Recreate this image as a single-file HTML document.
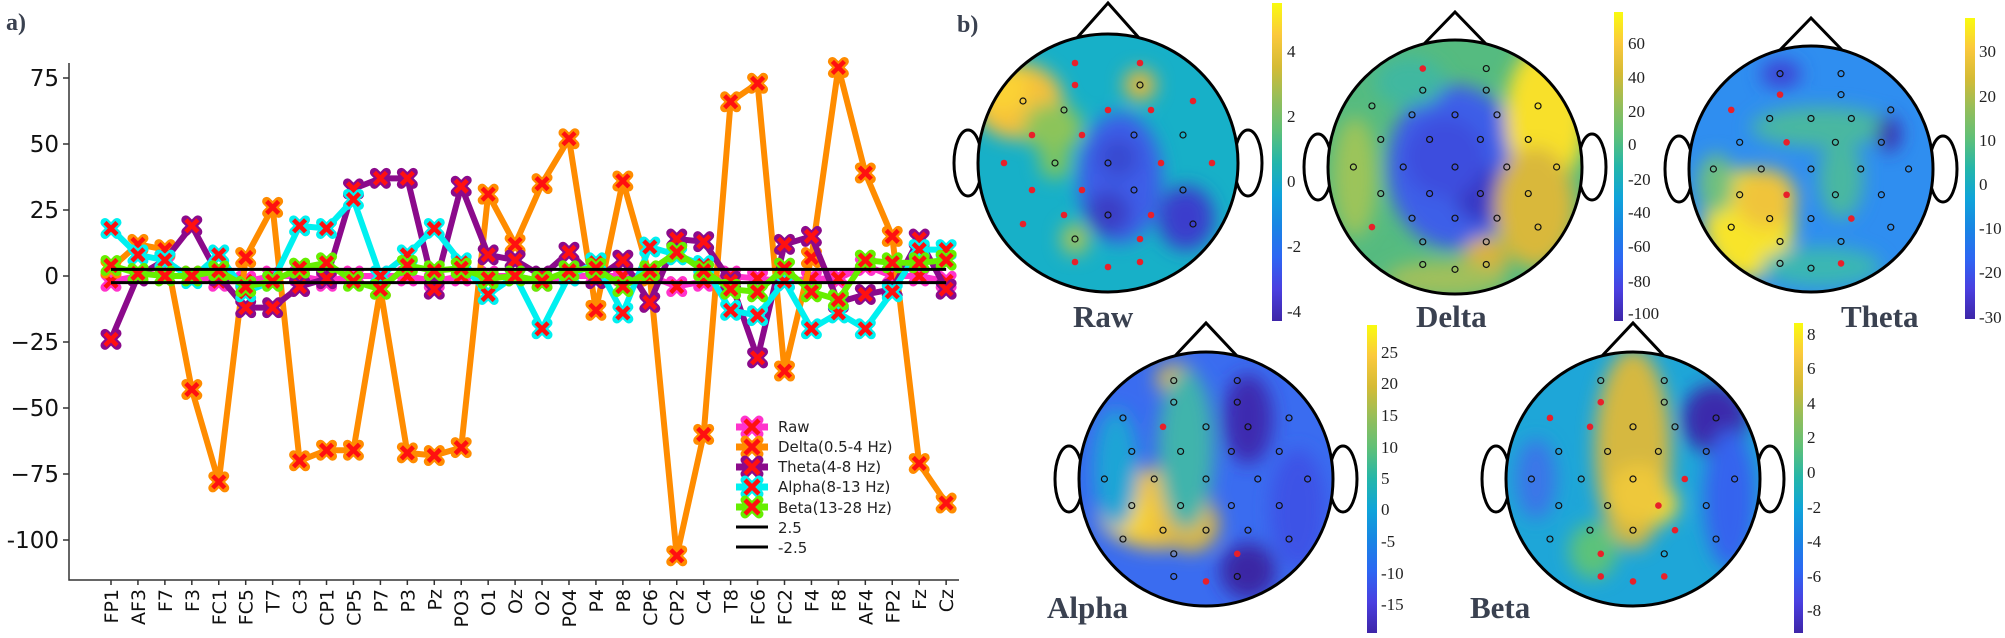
<!DOCTYPE html>
<html><head><meta charset="utf-8"><style>
html,body{margin:0;padding:0;background:#fff;}
svg{display:block;}
.t{font-family:"DejaVu Sans","Liberation Sans",sans-serif;}
.s{font-family:"Liberation Serif",serif;}
</style></head><body>
<svg id="root" width="2005" height="638" viewBox="0 0 2005 638" xmlns="http://www.w3.org/2000/svg">
<defs>
<linearGradient id="cb" x1="0" y1="0" x2="0" y2="1">
<stop offset="0" stop-color="#f9fb0e"/><stop offset="0.1" stop-color="#fbc93c"/><stop offset="0.2" stop-color="#d5bb35"/><stop offset="0.3" stop-color="#95be5a"/><stop offset="0.4" stop-color="#5fc078"/><stop offset="0.5" stop-color="#24b6aa"/><stop offset="0.6" stop-color="#0fa4d9"/><stop offset="0.7" stop-color="#1885e4"/><stop offset="0.8" stop-color="#2d66f3"/><stop offset="0.9" stop-color="#4a3fe0"/><stop offset="1" stop-color="#3e26a8"/>
</linearGradient>
<filter id="bl" x="-50%" y="-50%" width="200%" height="200%"><feGaussianBlur stdDeviation="9"/></filter>
</defs>
<text x="6" y="30" class="s" font-size="24" font-weight="bold" fill="#3a4150">a)</text>
<text x="957" y="32" class="s" font-size="24" font-weight="bold" fill="#3a4150">b)</text>
<g stroke="#333" stroke-width="1.5" fill="none">
<path d="M69,63 V580 H959"/>
<path d="M63,78H69M63,144H69M63,210H69M63,276H69M63,342H69M63,408H69M63,474H69M63,540H69"/>
</g>
<g class="t" font-size="23" fill="#111" text-anchor="end">
<text x="59" y="86">75</text><text x="59" y="152">50</text><text x="59" y="218">25</text><text x="59" y="284">0</text>
<text x="59" y="350">−25</text><text x="59" y="416">−50</text><text x="59" y="482">−75</text><text x="59" y="548">-100</text>
</g>
<g id="xl" class="t" font-size="19" fill="#111" text-anchor="end"></g>
<g id="series"></g>
<g class="t" font-size="15" fill="#222">
<text x="778" y="432">Raw</text><text x="778" y="452">Delta(0.5-4 Hz)</text><text x="778" y="472">Theta(4-8 Hz)</text><text x="778" y="492">Alpha(8-13 Hz)</text><text x="778" y="513">Beta(13-28 Hz)</text><text x="778" y="533">2.5</text><text x="778" y="553">-2.5</text>
</g>
<g id="leg"></g>
<g id="heads"></g>
<rect x="1272" y="3" width="10" height="318" fill="url(#cb)"/>
<rect x="1614" y="12" width="9" height="309" fill="url(#cb)"/>
<rect x="1965" y="18" width="10" height="301" fill="url(#cb)"/>
<rect x="1367" y="325" width="10" height="308" fill="url(#cb)"/>
<rect x="1794" y="323" width="9" height="310" fill="url(#cb)"/>
<g class="s" font-size="17" fill="#222">
<text x="1287" y="57">4</text><text x="1287" y="122">2</text><text x="1287" y="187">0</text><text x="1287" y="252">-2</text><text x="1287" y="317">-4</text>
<text x="1628" y="49">60</text><text x="1628" y="83">40</text><text x="1628" y="117">20</text><text x="1628" y="150">0</text><text x="1628" y="185">-20</text><text x="1628" y="218">-40</text><text x="1628" y="252">-60</text><text x="1628" y="287">-80</text><text x="1628" y="319">-100</text>
<text x="1979" y="57">30</text><text x="1979" y="102">20</text><text x="1979" y="146">10</text><text x="1979" y="190">0</text><text x="1979" y="234">-10</text><text x="1979" y="278">-20</text><text x="1979" y="323">-30</text>
<text x="1381" y="358">25</text><text x="1381" y="389">20</text><text x="1381" y="421">15</text><text x="1381" y="453">10</text><text x="1381" y="484">5</text><text x="1381" y="515">0</text><text x="1381" y="547">-5</text><text x="1381" y="579">-10</text><text x="1381" y="610">-15</text>
<text x="1807" y="340">8</text><text x="1807" y="374">6</text><text x="1807" y="409">4</text><text x="1807" y="443">2</text><text x="1807" y="478">0</text><text x="1807" y="513">-2</text><text x="1807" y="547">-4</text><text x="1807" y="582">-6</text><text x="1807" y="616">-8</text>
</g>
<g class="s" font-size="31" font-weight="bold" fill="#3a4150">
<text x="1073" y="327">Raw</text><text x="1416" y="327">Delta</text><text x="1841" y="327">Theta</text>
<text x="1047" y="618">Alpha</text><text x="1470" y="618">Beta</text>
</g>
</svg>
<script>
var NS="http://www.w3.org/2000/svg";
function el(p,t,a){var e=document.createElementNS(NS,t);for(var k in a)e.setAttribute(k,a[k]);p.appendChild(e);return e;}
var ch="FP1 AF3 F7 F3 FC1 FC5 T7 C3 CP1 CP5 P7 P3 Pz PO3 O1 Oz O2 PO4 P4 P8 CP6 CP2 C4 T8 FC6 FC2 F4 F8 AF4 FP2 Fz Cz".split(" ");
function X(i){return 111+26.94*i;} function Y(v){return 276-2.64*v;}
var xl=document.getElementById("xl");
ch.forEach(function(c,i){var t=el(xl,"text",{transform:"translate("+(X(i)+7)+",589) rotate(-90)"});t.textContent=c;el(document.getElementById("root"),"line",{x1:X(i),x2:X(i),y1:580,y2:585,stroke:"#333","stroke-width":1.5});});
var S=[
["#ff33cc",[-2,0,5,0,-2,-2,0,0,-2,0,0,0,-2,0,0,0,-2,0,0,0,0,-4,-2,0,-1,-2,-1,-1,4,0,0,-2]],
["#ff8c00",[3,12,10,-43,-78,7,26,-70,-66,-66,-5,-67,-68,-65,31,12,35,52,-13,36,0,-106,-60,66,73,-36,7,79,39,15,-71,-86]],
["#8b0a8b",[-24,0,6,19,0,-12,-12,-4,-1,33,37,37,-5,34,8,6,0,9,-1,6,-10,14,13,-2,-31,12,15,-10,-7,-5,14,-5]],
["#00f0f0",[18,8,6,-1,8,-6,-2,19,18,29,0,8,18,5,-7,0,-20,0,5,-14,11,8,4,-13,-15,-2,-20,-14,-20,-6,10,10]],
["#66ee00",[4,1,0,0,2,-4,-2,3,5,-2,-5,4,2,3,-1,0,-2,2,3,-4,2,9,2,-5,-6,3,-6,-9,6,5,5,6]]];
var g=document.getElementById("series"),lg=document.getElementById("leg");
function mk(p,x,y,c,s){s=s||6;var d="M"+(x-s)+","+(y-s)+"L"+(x+s)+","+(y+s)+"M"+(x+s)+","+(y-s)+"L"+(x-s)+","+(y+s);
el(p,"path",{d:d,stroke:c,"stroke-width":9,"stroke-linecap":"round",fill:"none"});
el(p,"path",{d:d,stroke:"#ff1010","stroke-width":4.5,"stroke-linecap":"butt",fill:"none"});}
S.forEach(function(s,k){var pts=s[1].map(function(v,i){return X(i)+","+Y(v);}).join(" ");
el(g,"polyline",{points:pts,fill:"none",stroke:s[0],"stroke-width":6,"stroke-linejoin":"round"});
s[1].forEach(function(v,i){mk(g,X(i),Y(v),s[0]);});
var ly=427+20*k; el(lg,"line",{x1:736,x2:768,y1:ly,y2:ly,stroke:s[0],"stroke-width":7});mk(lg,752,ly,s[0],7);});
el(g,"line",{x1:X(0),x2:X(31),y1:Y(2.5),y2:Y(2.5),stroke:"#000","stroke-width":3});
el(g,"line",{x1:X(0),x2:X(31),y1:Y(-2.5),y2:Y(-2.5),stroke:"#000","stroke-width":3});
el(lg,"line",{x1:736,x2:768,y1:527,y2:527,stroke:"#000","stroke-width":3});
el(lg,"line",{x1:736,x2:768,y1:547,y2:547,stroke:"#000","stroke-width":3});
var E=[[-33,-100],[32,-100],[-33,-78],[32,-78],[-85,-62],[-44,-53],[0,-53],[43,-53],[85,-62],[-76,-28],[-26,-28],[26,-28],[75,-28],[-104,0],[-53,0],[0,0],[53,0],[104,0],[-76,27],[-26,27],[26,27],[75,27],[-85,61],[-44,52],[0,52],[43,52],[85,61],[-33,76],[32,76],[-33,99],[0,104],[32,99]];
var H=[
{cx:1108,cy:163,rx:130,ry:129,ap:3,base:"#17b0c8",red:[0,1,2,6,7,8,9,10,13,16,17,18,19,22,23,25,28,29,30,31],
b:[[-90,-62,45,38,"#f5c03a"],[-105,-75,25,25,"#fbd235"],[-55,-35,30,25,"#8cc45a"],[32,-78,16,16,"#e0b83c"],[12,15,42,65,"#3c5de8"],[0,50,22,22,"#3a3cc4"],[10,-5,20,20,"#3848d0"],[78,55,28,32,"#3b3dcc"],[-53,0,16,16,"#7cc460"],[-33,76,14,16,"#a4c458"]]},
{cx:1455,cy:167,rx:127,ry:127,ap:12,base:"#55bb80",red:[0,22],
b:[[0,0,68,82,"#3c5ee8"],[28,28,28,28,"#3838c4"],[-10,-10,40,40,"#3c4ede"],[90,-50,40,72,"#f8e02c"],[80,40,40,60,"#d9b83a"],[30,92,22,22,"#dcb23a"],[-100,10,22,60,"#9cc45a"],[-10,112,60,18,"#a0c05c"],[-45,-85,35,25,"#40b8a0"]]},
{cx:1811,cy:169,rx:122,ry:123,ap:18,base:"#2f8ef0",red:[2,4,10,19,25,31],
b:[[10,-42,70,20,"#4ab8a0"],[30,10,22,40,"#4ab8a0"],[-62,55,45,55,"#f8e42b"],[-45,30,30,30,"#f0c43a"],[-30,-95,20,14,"#3d42d4"],[78,-35,12,18,"#3b2fae"],[10,98,60,20,"#3ab7b2"],[-95,15,18,30,"#70c07e"]]},
{cx:1206,cy:479,rx:127,ry:127,ap:323,base:"#3a6cf0",red:[5,28,30],
b:[[-50,30,55,40,"#f0c33e"],[-82,35,25,25,"#f8d634"],[-15,45,28,28,"#dcb840"],[-30,-100,20,15,"#dcb840"],[-20,-30,28,80,"#40b4ac"],[-90,-10,22,60,"#1fa5d6"],[42,-60,25,45,"#3d2cb0"],[42,92,28,28,"#3a28a4"],[92,30,28,60,"#3c52e6"]]},
{cx:1633,cy:479,rx:127,ry:127,ap:323,base:"#1ea6d8",red:[2,4,5,16,20,25,27,29,30,31],
b:[[0,-30,38,100,"#d6b840"],[25,25,20,20,"#f8dc2c"],[5,15,30,30,"#eec83a"],[82,-60,33,35,"#3a2cac"],[97,20,26,70,"#3464ee"],[-97,0,20,40,"#3a76e8"],[-40,72,24,28,"#5bc27a"]]}];
var hg=document.getElementById("heads");
H.forEach(function(h,i){
var cid="cp"+i;var cp=el(hg,"clipPath",{id:cid});el(cp,"ellipse",{cx:h.cx,cy:h.cy,rx:h.rx,ry:h.ry});
el(hg,"path",{d:"M"+(h.cx-32)+","+(h.cy-h.ry+5)+"L"+h.cx+","+h.ap+"L"+(h.cx+32)+","+(h.cy-h.ry+5),fill:"none",stroke:"#000","stroke-width":3});
el(hg,"ellipse",{cx:h.cx-h.rx-10,cy:h.cy,rx:14,ry:33,fill:"#fff",stroke:"#000","stroke-width":3});
el(hg,"ellipse",{cx:h.cx+h.rx+10,cy:h.cy,rx:14,ry:33,fill:"#fff",stroke:"#000","stroke-width":3});
var gg=el(hg,"g",{"clip-path":"url(#"+cid+")"});
el(gg,"rect",{x:h.cx-h.rx,y:h.cy-h.ry,width:2*h.rx,height:2*h.ry,fill:h.base});
var fb=el(gg,"g",{filter:"url(#bl)"});
h.b.forEach(function(b){el(fb,"ellipse",{cx:h.cx+b[0],cy:h.cy+b[1],rx:b[2],ry:b[3],fill:b[4]});});
el(hg,"ellipse",{cx:h.cx,cy:h.cy,rx:h.rx,ry:h.ry,fill:"none",stroke:"#000","stroke-width":3});
E.forEach(function(e,j){var x=h.cx+e[0]*h.rx/130,y=h.cy+e[1]*h.ry/129;
if(h.red.indexOf(j)>=0)el(hg,"circle",{cx:x,cy:y,r:3.3,fill:"#e8202a"});
else el(hg,"circle",{cx:x,cy:y,r:3,fill:"none",stroke:"#111","stroke-width":1.2});});
});
</script>
</body></html>
